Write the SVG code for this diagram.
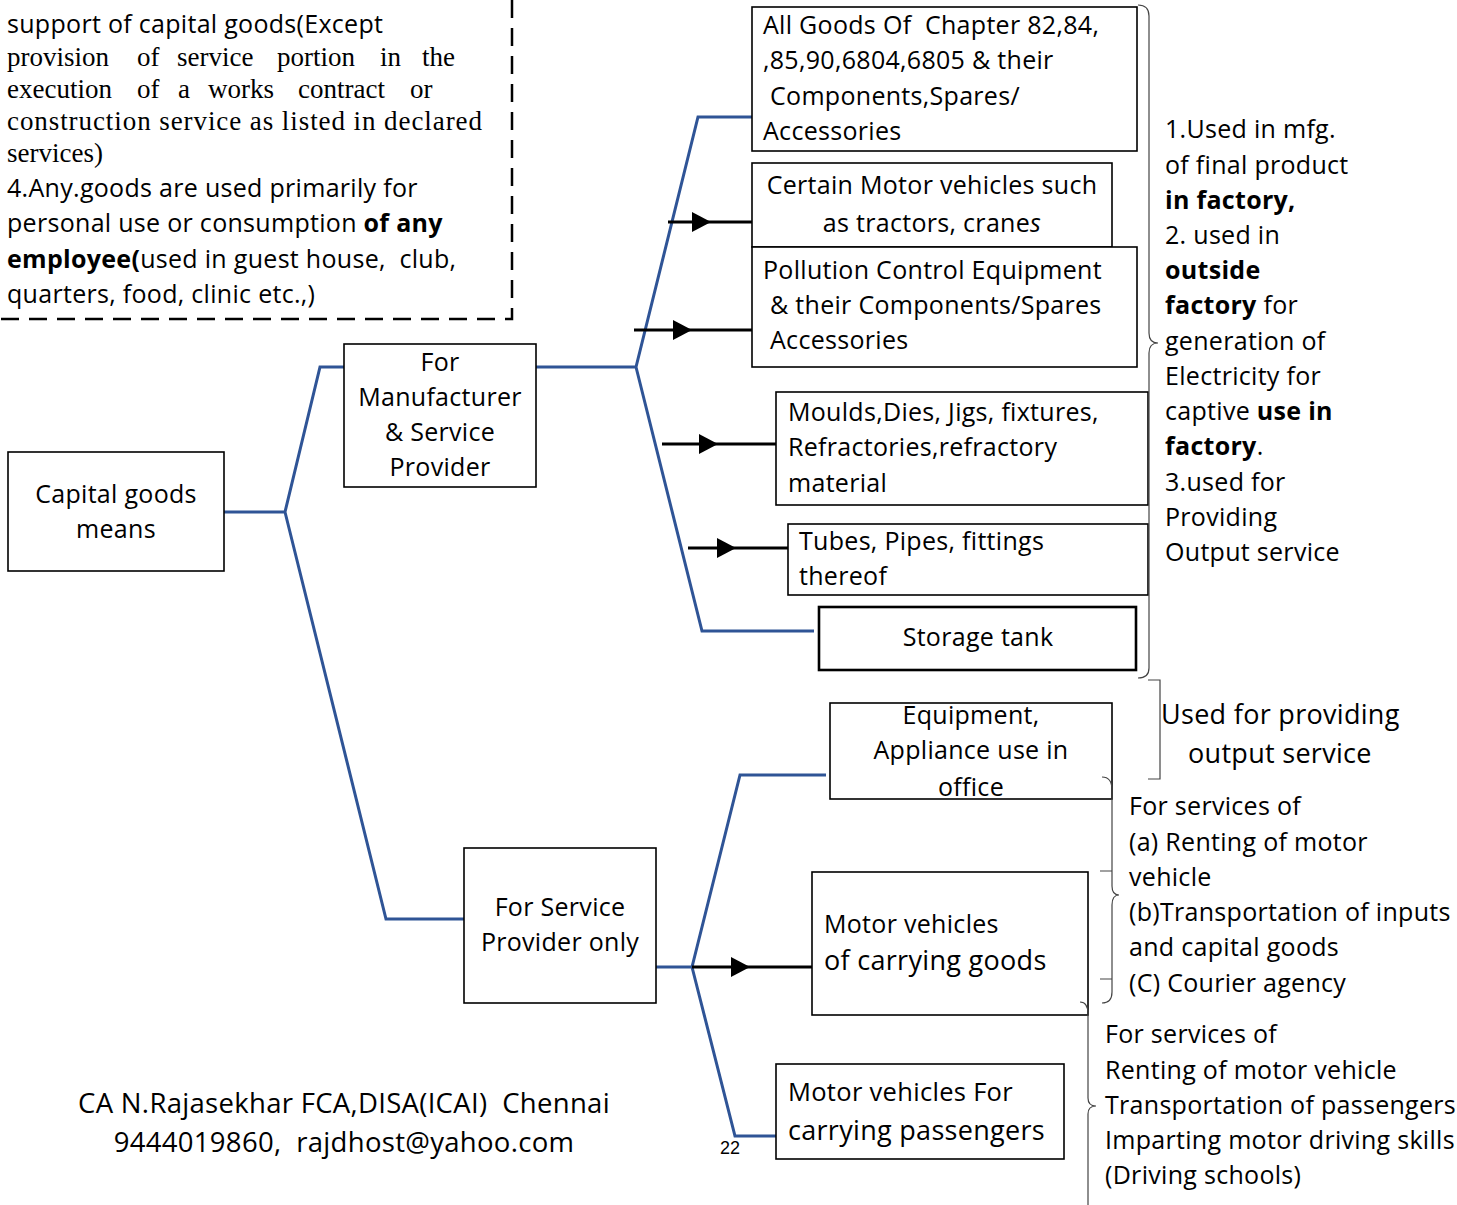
<svg xmlns="http://www.w3.org/2000/svg" width="1457" height="1205" viewBox="0 0 1457 1205">
<style>
.box{fill:#fff;stroke:#000;stroke-width:1.6}
.box2{fill:#fff;stroke:#000;stroke-width:2.6}
.t{font-family:"Open Sans","Liberation Sans",sans-serif;font-size:25px;letter-spacing:0.3px;fill:#000}
.s{font-family:"Liberation Serif","DejaVu Serif",serif;font-size:27px;fill:#000}
.c{text-anchor:middle}
.b{font-weight:bold}
.l27{font-size:27px}
.f{font-size:27.5px}
.blue{stroke:#2f5496;stroke-width:3;fill:none}
.arr{stroke:#000;stroke-width:3;fill:none;marker-mid:url(#ah)}
.brace{stroke:#444;stroke-width:1.2;fill:none}
.dash{stroke:#000;stroke-width:2.5;fill:none;stroke-dasharray:18 10}
.pg{font-family:"Liberation Sans",sans-serif;font-size:18px;text-anchor:middle;fill:#000}
</style>
<defs>
<marker id="ah" markerUnits="userSpaceOnUse" viewBox="0 -11 20 22" refX="0" refY="0" markerWidth="20" markerHeight="22" orient="auto">
<path d="M0,-10 L19,0 L0,10 z" fill="#000"/>
</marker>
</defs>
<rect width="1457" height="1205" fill="#fff"/>

<g id="exclusion-note">
<path class="dash" d="M512,0 L512,319 L0,319"/>
<text class="t" x="7" y="33">support of capital goods(Except</text>
<text class="s" y="66"><tspan x="7">provision</tspan><tspan x="137">of</tspan><tspan x="177">service</tspan><tspan x="277">portion</tspan><tspan x="380">in</tspan><tspan x="422">the</tspan></text>
<text class="s" y="98"><tspan x="7">execution</tspan><tspan x="137">of</tspan><tspan x="178">a</tspan><tspan x="208">works</tspan><tspan x="298">contract</tspan><tspan x="410">or</tspan></text>
<text class="s" x="7" y="130" textLength="475" lengthAdjust="spacing">construction service as listed in declared</text>
<text class="s" x="7" y="162">services)</text>
<text class="t" x="7" y="197">4.Any.goods are used primarily for</text>
<text class="t" x="7" y="232">personal use or consumption <tspan class="b">of any</tspan></text>
<text class="t" x="7" y="268" xml:space="preserve"><tspan class="b">employee(</tspan>used in guest house,  club,</text>
<text class="t" x="7" y="303">quarters, food, clinic etc.,)</text>
</g>

<g id="connectors">
<path class="blue" d="M224,512 L285,512 M285,512 L320,367 L344,367 M285,512 L386,919 L464,919"/>
<path class="blue" d="M536,367 L636,367 L698,117 L752,117 M636,367 L702,631 L814,631"/>
<path class="blue" d="M656,967 L692,967 L740,775 L826,775 M692,967 L735,1136 L776,1136"/>
<path class="arr" d="M668,222 L692,222 L752,222"/>
<path class="arr" d="M634,330 L673,330 L752,330"/>
<path class="arr" d="M662,444 L699,444 L776,444"/>
<path class="arr" d="M688,548 L717,548 L788,548"/>
<path class="arr" d="M692,967 L731,967 L812,967"/>
</g>

<g id="capital-goods">
<rect class="box" x="8" y="452" width="216" height="119"/>
<text class="t c" x="116" y="503">Capital goods</text>
<text class="t c" x="116" y="538">means</text>
</g>

<g id="manufacturer">
<rect class="box" x="344" y="344" width="192" height="143"/>
<text class="t c" x="440" y="371">For</text>
<text class="t c" x="440" y="406">Manufacturer</text>
<text class="t c" x="440" y="441">&amp; Service</text>
<text class="t c" x="440" y="476">Provider</text>
</g>

<g id="service-provider">
<rect class="box" x="464" y="848" width="192" height="155"/>
<text class="t c" x="560" y="916">For Service</text>
<text class="t c" x="560" y="951">Provider only</text>
</g>

<g id="chapter-goods">
<rect class="box" x="752" y="7" width="385" height="144"/>
<text class="t" x="763" y="34" xml:space="preserve">All Goods Of  Chapter 82,84,</text>
<text class="t" x="763" y="69">,85,90,6804,6805 &amp; their</text>
<text class="t" x="770" y="105">Components,Spares/</text>
<text class="t" x="763" y="140">Accessories</text>
</g>

<g id="motor-vehicles-certain">
<rect class="box" x="752" y="163" width="360" height="84"/>
<text class="t c" x="932" y="194">Certain Motor vehicles such</text>
<text class="t c" x="932" y="232">as tractors, crane<tspan font-style="italic">s</tspan></text>
</g>

<g id="pollution-control">
<rect class="box" x="752" y="247" width="385" height="120"/>
<text class="t" x="763" y="279">Pollution Control Equipment</text>
<text class="t" x="770" y="314">&amp; their Components/Spares</text>
<text class="t" x="770" y="349">Accessories</text>
</g>

<g id="moulds">
<rect class="box" x="776" y="392" width="372" height="113"/>
<text class="t" x="788" y="421">Moulds,Dies, Jigs, fixtures,</text>
<text class="t" x="788" y="456">Refractories,refractory</text>
<text class="t" x="788" y="492">material</text>
</g>

<g id="tubes">
<rect class="box" x="788" y="524" width="360" height="71"/>
<text class="t" x="799" y="550">Tubes, Pipes, fittings</text>
<text class="t" x="799" y="585">thereof</text>
</g>

<g id="storage-tank">
<rect class="box2" x="819" y="607" width="317" height="63"/>
<text class="t c" x="978" y="646">Storage tank</text>
</g>

<g id="equipment-office">
<rect class="box" x="830" y="703" width="282" height="96"/>
<text class="t c" x="971" y="724">Equipment,</text>
<text class="t c" x="971" y="759">Appliance use in</text>
<text class="t c" x="971" y="796">office</text>
</g>

<g id="motor-goods">
<rect class="box" x="812" y="872" width="276" height="143"/>
<text class="t" x="824" y="933">Motor vehicles</text>
<text class="t l27" x="824" y="970">of carrying goods</text>
</g>

<g id="motor-passengers">
<rect class="box" x="776" y="1064" width="288" height="95"/>
<text class="t" x="788" y="1101" style="font-size:25.5px">Motor vehicles For</text>
<text class="t l27" x="788" y="1140">carrying passengers</text>
</g>

<g id="braces">
<path class="brace" d="M1138,5 Q1149,5 1149,16 L1149,333 Q1149,343 1158,343 Q1149,343 1149,353 L1149,668 Q1149,678 1138,678"/>
<path class="brace" d="M1148,680 L1160,680 L1160,779 L1148,779"/>
<path class="brace" d="M1102,777 Q1112,777 1112,790 L1112,886 Q1112,895 1119,895 Q1112,895 1112,905 L1112,992 Q1112,1003 1102,1003 M1100,871 L1112,871 M1100,979 L1112,979"/>
<path class="brace" d="M1080,1002 Q1088,1002 1088,1014 L1088,1098 Q1088,1106 1096,1106 Q1088,1106 1088,1114 L1088,1205"/>
</g>

<g id="note-manufacturer">
<text class="t" x="1165" y="138">1.Used in mfg.</text>
<text class="t" x="1165" y="174">of final product</text>
<text class="t b" x="1165" y="209">in factory,</text>
<text class="t" x="1165" y="244">2. used in</text>
<text class="t b" x="1165" y="279">outside</text>
<text class="t" x="1165" y="314"><tspan class="b">factory</tspan> for</text>
<text class="t" x="1165" y="350">generation of</text>
<text class="t" x="1165" y="385">Electricity for</text>
<text class="t" x="1165" y="420">captive <tspan class="b">use in</tspan></text>
<text class="t" x="1165" y="455"><tspan class="b">factory</tspan>.</text>
<text class="t" x="1165" y="491">3.used for</text>
<text class="t" x="1165" y="526">Providing</text>
<text class="t" x="1165" y="561">Output service</text>
</g>

<g id="note-output">
<text class="t l27" x="1161" y="724">Used for providing</text>
<text class="t l27" x="1188" y="763">output service</text>
</g>

<g id="note-goods">
<text class="t" x="1129" y="815">For services of</text>
<text class="t" x="1129" y="851">(a) Renting of motor</text>
<text class="t" x="1129" y="886">vehicle</text>
<text class="t" x="1129" y="921">(b)Transportation of inputs</text>
<text class="t" x="1129" y="956">and capital goods</text>
<text class="t" x="1129" y="992">(C) Courier agency</text>
</g>

<g id="note-passengers">
<text class="t" x="1105" y="1043">For services of</text>
<text class="t" x="1105" y="1079">Renting of motor vehicle</text>
<text class="t" x="1105" y="1114">Transportation of passengers</text>
<text class="t" x="1105" y="1149">Imparting motor driving skills</text>
<text class="t" x="1105" y="1184">(Driving schools)</text>
</g>

<g id="footer">
<text class="t c f" x="344" y="1113" xml:space="preserve">CA N.Rajasekhar FCA,DISA(ICAI)  Chennai</text>
<text class="t c f" x="344" y="1152" xml:space="preserve">9444019860,  rajdhost@yahoo.com</text>
<text class="pg" x="730" y="1154">22</text>
</g>
</svg>
